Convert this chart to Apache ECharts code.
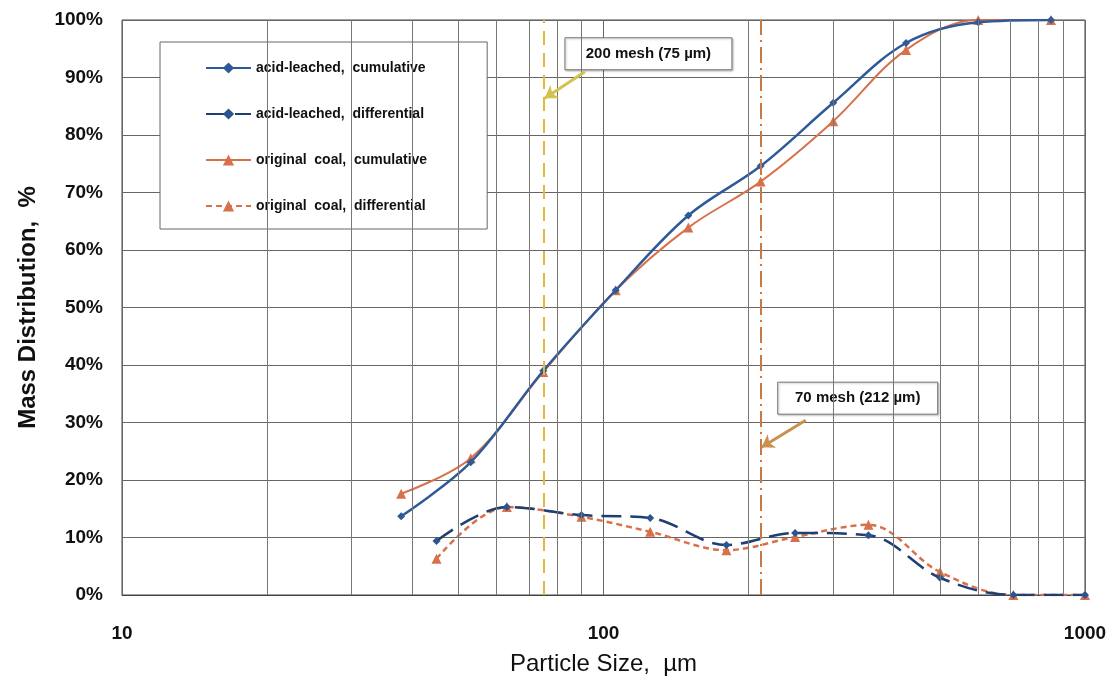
<!DOCTYPE html>
<html>
<head>
<meta charset="utf-8">
<script src="https://cdn.jsdelivr.net/npm/echarts@6/dist/echarts.min.js"></script>
<style>
  html, body { margin: 0; padding: 0; background: #fff; }
  #main { width: 1114px; height: 683px; }
</style>
</head>
<body>
<div id="main"></div>
<script>
// sieve sizes (µm) for cumulative curves
const cumSize = [38, 53, 75, 106, 150, 212, 300, 425, 600, 850];
const acidCum = [13.7, 23.1, 39.0, 53.0, 66.0, 74.6, 85.6, 96.0, 99.6, 100];
const origCum = [17.6, 23.8, 38.8, 53.0, 63.9, 71.9, 82.4, 94.8, 100, 100];
// mid sizes (µm) for differential curves
const diffSize = [45, 63, 90, 125, 180, 250, 355, 500, 710, 1000];
const acidDiff = [9.4, 15.3, 13.9, 13.4, 8.7, 10.8, 10.4, 3.0, 0, 0];
const origDiff = [6.3, 15.3, 13.6, 11.0, 7.8, 10.1, 12.2, 4.0, 0, 0];
// minor log gridlines
const minorGrid = [20, 30, 40, 50, 60, 70, 80, 90, 200, 300, 400, 500, 600, 700, 800, 900];
const names = ['acid-leached,  cumulative', 'acid-leached,  differential',
               'original  coal,  cumulative', 'original  coal,  differential'];

const blue = '#2f5a98';
const navy = '#1f3f70';
const orange = '#d8714b';
const font = 'Liberation Sans, Arial, sans-serif';

const zip = (xs, ys) => xs.map((x, i) => [x, ys[i]]);

let chart = echarts.init(document.getElementById('main'));
let option = {
    animation: false,
    grid: {
        left: 122, right: 29, top: 20, bottom: 88,
        show: true, borderColor: '#444', borderWidth: 1
    },
    legend: {
        orient: 'vertical',
        left: 160, top: 42,
        padding: [19, 60, 16, 45],
        itemGap: 32,
        itemWidth: 45,
        itemHeight: 14,
        backgroundColor: '#fff',
        borderColor: '#666',
        borderWidth: 1,
        textStyle: { fontFamily: font, fontSize: 14, fontWeight: 'bold', color: '#111' },
        data: names
    },
    xAxis: {
        type: 'log', logBase: 10, min: 10, max: 1000,
        name: 'Particle Size,  µm',
        nameLocation: 'middle', nameGap: 57,
        nameTextStyle: { fontFamily: font, fontSize: 24, color: '#111' },
        axisLine: { show: true, lineStyle: { color: '#444' } },
        axisTick: { show: false },
        axisLabel: { margin: 29, formatter: v => String(v), fontFamily: font, fontSize: 19, fontWeight: 'bold', color: '#111' },
        splitLine: { show: true, lineStyle: { color: '#666', width: 1 } }
    },
    yAxis: {
        type: 'value', min: 0, max: 100, interval: 10,
        name: 'Mass Distribution,  %',
        nameLocation: 'middle', nameGap: 82, nameRotate: 90,
        nameTextStyle: { fontFamily: font, fontSize: 24, fontWeight: 'bold', color: '#111' },
        axisLine: { show: false },
        axisTick: { show: false },
        axisLabel: { margin: 19, formatter: '{value}%', fontFamily: font, fontSize: 19, fontWeight: 'bold', color: '#111' },
        splitLine: { show: true, lineStyle: { color: '#666', width: 1 } }
    },
    series: [
        {
            // minor gridlines, mesh marker lines and arrows
            type: 'line', data: [], silent: true,
            markLine: {
                silent: true, symbol: 'none', animation: false,
                label: { show: false },
                data: minorGrid.map(v => ({ xAxis: v, lineStyle: { color: '#777', width: 1, type: 'solid' } })).concat([
                    { xAxis: 75, lineStyle: { color: '#e2b93a', width: 2, type: [14, 8] } },
                    { xAxis: 212, lineStyle: { color: '#c97a44', width: 2, type: [16, 5, 2, 5] } },
                    [{ coord: [91.5, 91], symbol: 'none', lineStyle: { color: '#d3c24c', width: 3, type: 'solid' } },
                     { coord: [75.5, 86.4], symbol: 'arrow', symbolSize: 12 }],
                    [{ coord: [263, 30.4], symbol: 'none', lineStyle: { color: '#c9914e', width: 3, type: 'solid' } },
                     { coord: [213, 25.7], symbol: 'arrow', symbolSize: 12 }]
                ])
            }
        },
        {
            name: names[0], type: 'line', smooth: 0.35,
            data: zip(cumSize, acidCum),
            symbol: 'diamond', symbolSize: 8,
            itemStyle: { color: blue },
            lineStyle: { color: blue, width: 2.5 },
            z: 4
        },
        {
            name: names[1], type: 'line', smooth: 0.35,
            data: zip(diffSize, acidDiff),
            symbol: 'diamond', symbolSize: 8,
            itemStyle: { color: '#2a5590' },
            lineStyle: { color: navy, width: 2.5, type: [20, 9] },
            z: 4
        },
        {
            name: names[2], type: 'line', smooth: 0.35,
            data: zip(cumSize, origCum),
            symbol: 'triangle', symbolSize: 10,
            itemStyle: { color: orange },
            lineStyle: { color: orange, width: 2 },
            z: 3
        },
        {
            name: names[3], type: 'line', smooth: 0.35,
            data: zip(diffSize, origDiff),
            symbol: 'triangle', symbolSize: 10,
            itemStyle: { color: orange },
            lineStyle: { color: orange, width: 2.5, type: [6, 4] },
            z: 3
        }
    ]
};
chart.setOption(option);

// annotation boxes anchored at arrow tails
function labelBox(text, coord, dx, dy, w) {
    const p = chart.convertToPixel({ gridIndex: 0 }, coord);
    return {
        type: 'group', x: p[0] + dx, y: p[1] + dy, z: 100,
        children: [
            { type: 'rect', shape: { x: 0, y: 0, width: w, height: 32 },
              style: { fill: '#fff', stroke: '#777', lineWidth: 1, shadowColor: 'rgba(0,0,0,0.25)', shadowOffsetX: 1, shadowOffsetY: 1, shadowBlur: 2 } },
            { type: 'text', x: w / 2, y: 16,
              style: { text: text, fill: '#111', font: 'bold 15px ' + font, align: 'center', verticalAlign: 'middle' } }
        ]
    };
}
chart.setOption({
    graphic: [
        labelBox('200 mesh (75 µm)', [91.5, 91], -20, -34, 167),
        labelBox('70 mesh (212 µm)', [263, 30.4], -28, -38, 160)
    ]
});
</script>
</body>
</html>
